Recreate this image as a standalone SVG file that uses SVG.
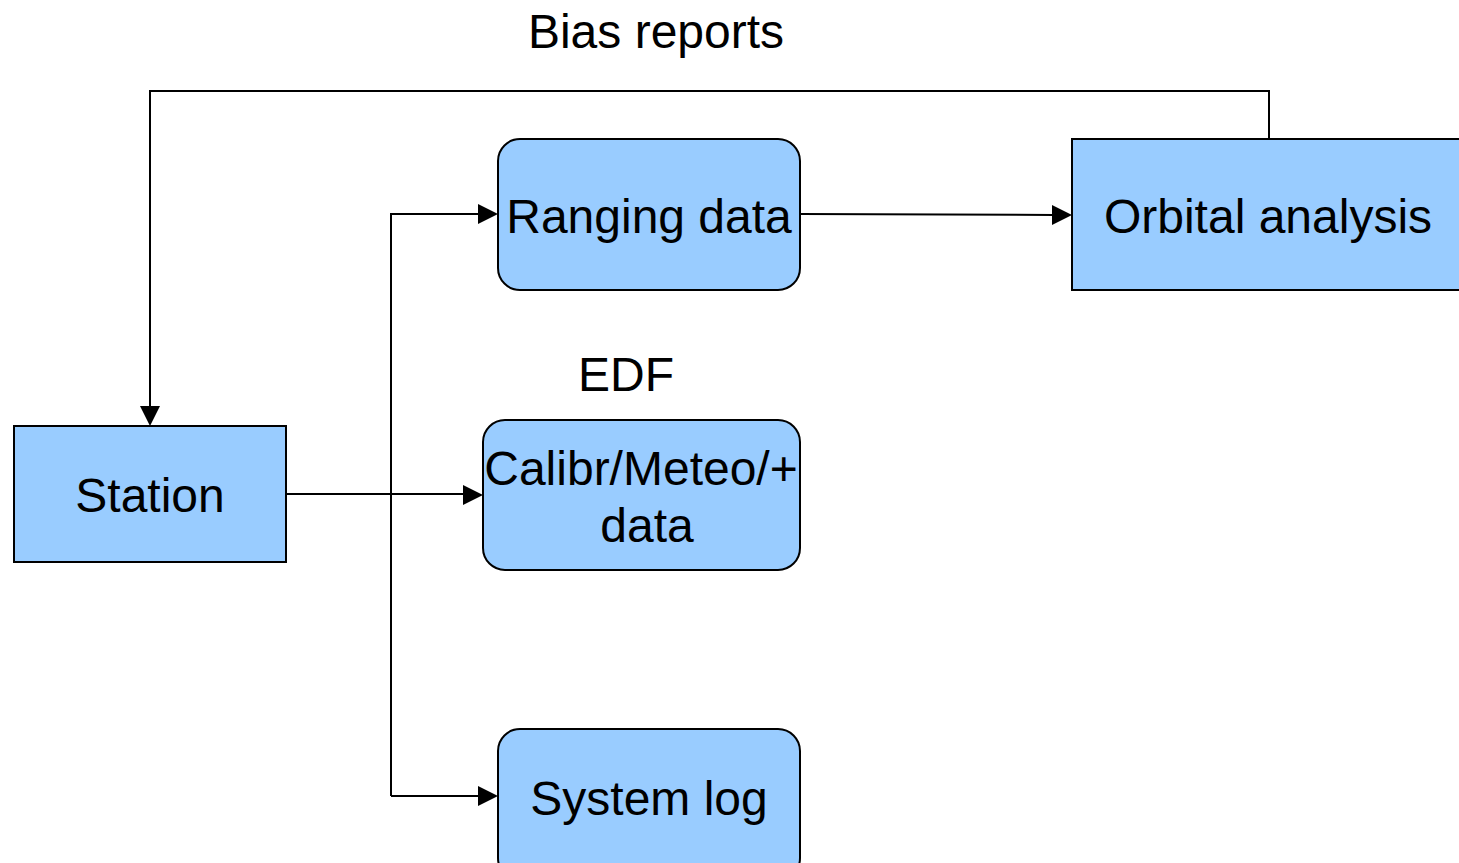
<svg xmlns="http://www.w3.org/2000/svg" width="1459" height="863" viewBox="0 0 1459 863">
<style>
.box{fill:#99ccff;stroke:#000;stroke-width:2}
.lbl{font-family:"Liberation Sans",Arial,sans-serif;font-size:48px;fill:#000;text-anchor:middle}
.edge{fill:none;stroke:#000;stroke-width:2}
</style>
<rect width="1459" height="863" fill="#fff"/>
<g id="connectors">
<path class="edge" d="M1269,139 V91 H150 V408"/>
<path class="edge" d="M286,494 H465"/>
<path class="edge" d="M391,796 V214 H480"/>
<path class="edge" d="M391,796 H480"/>
<path class="edge" d="M800,214 L1054,215"/>
<polygon points="140,406 160,406 150,426" fill="#000"/>
<polygon points="463,485 463,505 483,495" fill="#000"/>
<polygon points="478,204 478,224 498,214" fill="#000"/>
<polygon points="478,786 478,806 498,796" fill="#000"/>
<polygon points="1052,205 1052,225 1072,215" fill="#000"/>
</g>
<g id="bias-label"><text class="lbl" x="656" y="48">Bias reports</text></g>
<g id="edf-label"><text class="lbl" x="626" y="391">EDF</text></g>
<g id="station">
<rect class="box" x="14" y="426" width="272" height="136"/>
<text class="lbl" x="150" y="512">Station</text>
</g>
<g id="ranging">
<rect class="box" x="498" y="139" width="302" height="151" rx="22" ry="22"/>
<text class="lbl" x="649" y="233">Ranging data</text>
</g>
<g id="orbital">
<rect class="box" x="1072" y="139" width="400" height="151"/>
<text class="lbl" x="1268" y="233">Orbital analysis</text>
</g>
<g id="calibr">
<rect class="box" x="483" y="420" width="317" height="150" rx="22" ry="22"/>
<text class="lbl" x="641" y="485">Calibr/Meteo/+</text>
<text class="lbl" x="647" y="542">data</text>
</g>
<g id="syslog">
<rect class="box" x="498" y="729" width="302" height="151" rx="22" ry="22"/>
<text class="lbl" x="649" y="815">System log</text>
</g>
</svg>
